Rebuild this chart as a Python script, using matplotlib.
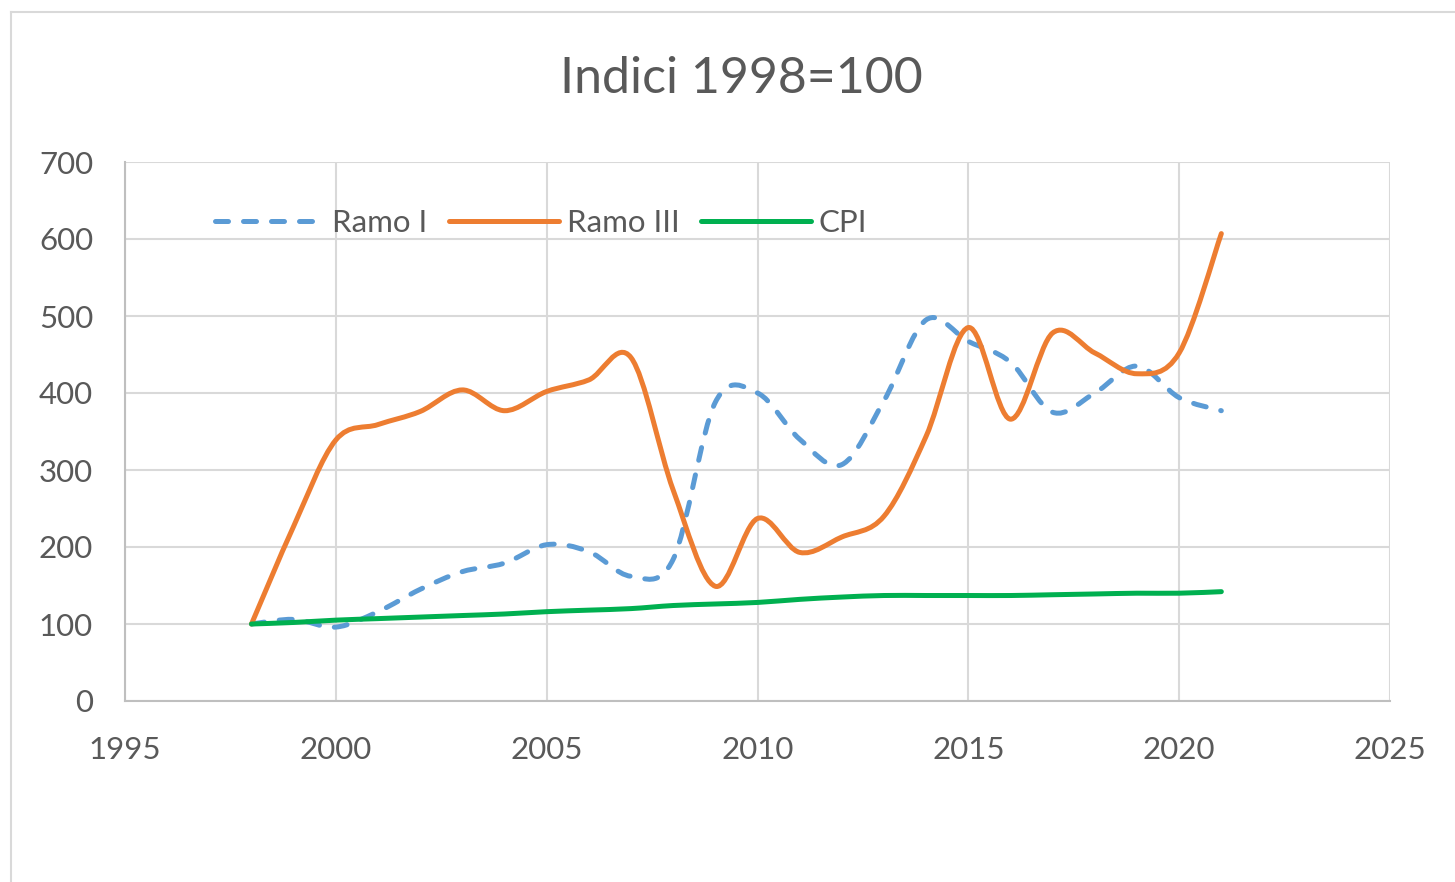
import matplotlib.pyplot as plt
from matplotlib.path import Path
from matplotlib.patches import PathPatch
from matplotlib.lines import Line2D

anni = list(range(1998, 2022))
ramo_i = [100, 106, 96, 116, 145, 168, 179, 203, 194, 162, 184, 388,
          400, 340, 307, 390, 495, 467, 440, 375, 400, 435, 394, 377]
ramo_iii = [100, 227, 339, 359, 376, 404, 377, 402, 417, 446, 274, 149,
            237, 193, 213, 240, 344, 485, 366, 478, 452, 425, 452, 607]
cpi = [100, 102, 105, 107, 109, 111, 113, 116, 118, 120, 124, 126,
       128, 132, 135, 137, 137, 137, 137, 138, 139, 140, 140, 142]

plt.rcParams['font.family'] = ['Lato', 'DejaVu Sans']
grigio = '#595959'
griglia = '#d9d9d9'


def curva_liscia(x, y):
    # linea smussata stile Excel (Catmull-Rom -> Bezier)
    verts = [(x[0], y[0])]
    codes = [Path.MOVETO]
    n = len(x)
    for i in range(n - 1):
        i0 = max(i - 1, 0)
        i3 = min(i + 2, n - 1)
        c1 = (x[i] + (x[i + 1] - x[i0]) / 6, y[i] + (y[i + 1] - y[i0]) / 6)
        c2 = (x[i + 1] - (x[i3] - x[i]) / 6, y[i + 1] - (y[i3] - y[i]) / 6)
        verts += [c1, c2, (x[i + 1], y[i + 1])]
        codes += [Path.CURVE4] * 3
    return Path(verts, codes)


fig = plt.figure(figsize=(14.55, 8.82), dpi=100)
ax = fig.add_axes([125 / 1455, 1 - 701 / 882, 1265 / 1455, 539 / 882])

# bordo del grafico
fig.add_artist(Line2D([11 / 1455, 11 / 1455], [0, 1 - 12 / 882], color=griglia, lw=1.5))
fig.add_artist(Line2D([11 / 1455, 1], [1 - 12 / 882, 1 - 12 / 882], color=griglia, lw=1.5))

serie = [
    (ramo_i, '#5b9bd5', (0, (2.6, 3.0)), 'Ramo I'),
    (ramo_iii, '#ed7d31', '-', 'Ramo III'),
    (cpi, '#00b050', '-', 'CPI'),
]
maniglie = []
for valori, colore, stile, nome in serie:
    p = PathPatch(curva_liscia(anni, valori), fill=False, edgecolor=colore,
                  lw=3.6, linestyle=stile, capstyle='round', joinstyle='round', zorder=3)
    ax.add_patch(p)
    maniglie.append(Line2D([], [], color=colore, lw=3.6, linestyle=stile,
                           dash_capstyle='round', solid_capstyle='round', label=nome))

ax.set_xlim(1995, 2025)
ax.set_ylim(0, 700)
ax.set_xticks(range(1995, 2026, 5))
ax.set_yticks(range(0, 701, 100))
ax.grid(True, color=griglia, lw=1.5, zorder=0)
ax.set_axisbelow(True)
for lato, sp in ax.spines.items():
    if lato in ('left', 'bottom'):
        sp.set_color('#bfbfbf')
        sp.set_linewidth(1.5)
    else:
        sp.set_visible(False)
ax.tick_params(length=0, labelsize=22.5, labelcolor=grigio)
ax.tick_params(axis='y', pad=23)
ax.tick_params(axis='x', pad=25)

ax.legend(handles=maniglie, loc='upper left', bbox_to_anchor=(0.049, 0.965), ncol=3,
          frameon=False, fontsize=22.5, labelcolor=grigio, handlelength=3.5,
          handletextpad=0.25, columnspacing=0.7)

fig.text(741 / 1455, 1 - 79 / 882, 'Indici 1998=100', ha='center', va='center',
         fontsize=36, color=grigio)

fig.savefig('out.png', dpi=100)
